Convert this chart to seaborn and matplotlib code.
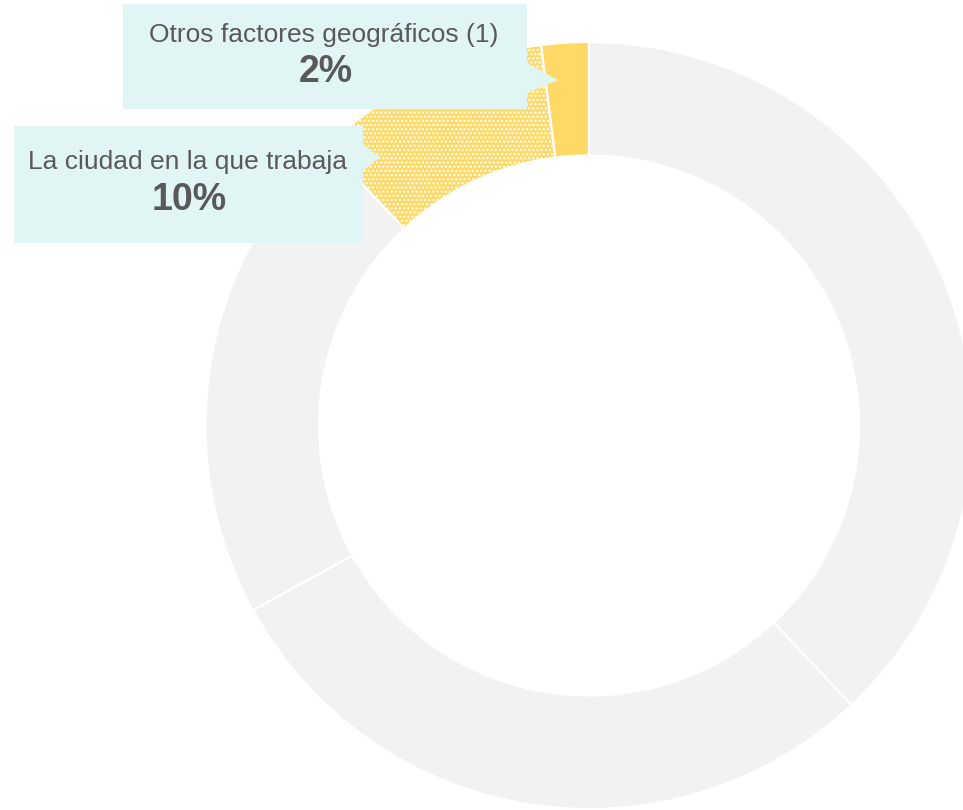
import matplotlib
matplotlib.use("Agg")
import matplotlib.pyplot as plt
from matplotlib.patches import Polygon
import seaborn as sns

# data
categories = ["Otros factores geográficos (1)", "La ciudad en la que trabaja",
              "Otro A", "Otro B", "Otro C"]
shares = [2, 10, 21, 29, 38]
label_texts = ["Otros factores geográficos (1)", "La ciudad en la que trabaja"]
label_values = ["2%", "10%"]

sns.set_style("white")
plt.rcParams["font.family"] = ["Liberation Sans", "DejaVu Sans"]
plt.rcParams["hatch.linewidth"] = 1.1

W, H = 963, 810
fig = plt.figure(figsize=(W / 100, H / 100), dpi=100)
ax = fig.add_axes([0, 0, 1, 1])


def px(x, y):
    # image pixel coords -> data coords (y up)
    return x, H - y


yellow = "#FFD966"
gray = "#F2F2F2"
colors = [yellow, yellow, gray, gray, gray]
hatches = ["", "....", "", "", ""]

cx, cy = px(589, 425.5)
ax.pie(shares, colors=colors, hatch=hatches, startangle=90, counterclock=True,
       center=(cx, cy), radius=383.5, frame=True,
       wedgeprops=dict(width=113.5, edgecolor="white", linewidth=1.6))

ax.set_xlim(0, W)
ax.set_ylim(0, H)
ax.set_aspect("auto")
ax.axis("off")

box_col = "#E1F6F4"
txt_col = "#595959"

# callout 1
poly1 = [(123, 4), (527, 4), (527, 63), (558, 80), (527, 93), (527, 109), (123, 109)]
ax.add_patch(Polygon([px(*p) for p in poly1], closed=True, facecolor=box_col,
                     edgecolor="none", zorder=5))
# callout 2
poly2 = [(14, 126), (363, 126), (363, 144), (380, 157), (363, 171), (363, 243), (14, 243)]
ax.add_patch(Polygon([px(*p) for p in poly2], closed=True, facecolor=box_col,
                     edgecolor="none", zorder=5))

ax.text(*px(324, 35), label_texts[0], ha="center", va="center", fontsize=19,
        color=txt_col, zorder=6)
ax.text(*px(326, 72), label_values[0], ha="center", va="center", fontsize=27,
        fontweight="bold", color=txt_col, zorder=6)
ax.text(*px(188, 162), label_texts[1], ha="center", va="center", fontsize=19,
        color=txt_col, zorder=6)
ax.text(*px(189, 200), label_values[1], ha="center", va="center", fontsize=27,
        fontweight="bold", color=txt_col, zorder=6)

fig.savefig("out.png", dpi=100, facecolor="white")
